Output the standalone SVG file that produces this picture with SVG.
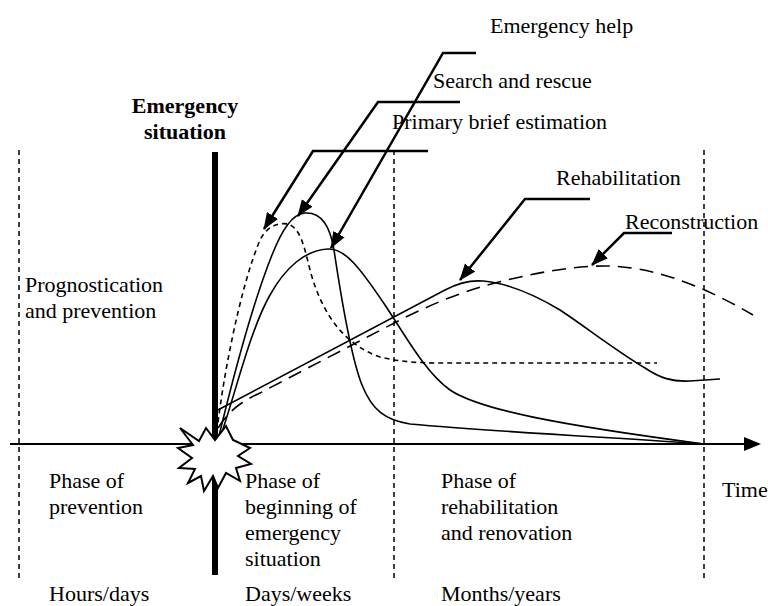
<svg xmlns="http://www.w3.org/2000/svg" width="768" height="606" viewBox="0 0 768 606">
<style>
text{font-family:"Liberation Serif","Times New Roman",serif;font-size:22px;fill:#000}
.b{font-weight:bold}
.vd{stroke:#000;stroke-width:1.5;stroke-dasharray:5,4;fill:none}
.c{fill:none;stroke:#000;stroke-width:1.6}
.ld{fill:none;stroke:#000;stroke-width:2.5;marker-end:url(#ah)}
</style>
<defs>
<marker id="ah" markerUnits="userSpaceOnUse" markerWidth="18" markerHeight="14" refX="16" refY="6.5" orient="auto">
<path d="M0,0 L17,6.5 L0,13 z" fill="#000"/>
</marker>
</defs>
<rect width="768" height="606" fill="#fff"/>
<g id="phase-lines">
<line class="vd" x1="19" y1="150" x2="19" y2="578"/>
<line class="vd" x1="394" y1="150" x2="394" y2="578"/>
<line class="vd" x1="704" y1="150" x2="704" y2="578"/>
</g>
<g id="emergency-line">
<line x1="215" y1="152" x2="215" y2="575" stroke="#000" stroke-width="6"/>
</g>
<g id="time-axis">
<line x1="10" y1="444" x2="748" y2="444" stroke="#000" stroke-width="2"/>
<polygon points="744,437 761,444 744,451" fill="#000"/>
</g>
<g id="curves">
<path id="curve-primary" class="c" stroke-dasharray="5,4" d="M216,440 C222,380 240,290 258,245 C264,228 276,222 288,224 C300,228 304,245 310,270 C322,315 345,345 380,357 C400,362 420,363 440,363 L657,363"/>
<path id="curve-search" class="c" d="M218,440 C230,390 250,310 272,255 C282,230 292,214 305,213 C320,212 330,225 334,250 C340,290 350,355 362,385 C372,410 385,420 410,424 C500,432 620,438 704,444"/>
<path id="curve-help" class="c" stroke-width="3" d="M220,438 C235,395 250,330 270,295 C285,268 305,250 328,249 C345,248 360,268 385,305 C405,335 425,372 450,390 C480,410 560,425 704,444"/>
<path id="curve-rehab" class="c" d="M216,411 L445,290 C458,283 470,280 483,281 C505,283 530,292 560,310 C590,330 615,350 645,368 C660,378 672,382 690,381 L720,379"/>
<path id="curve-recon" class="c" stroke-dasharray="14,8" d="M218,428 C228,412 240,402 258,394 L400,320 C430,305 460,292 495,283 C530,274 570,266 605,266 C650,266 700,284 753,315"/>
</g>
<g id="explosion">
<polygon points="180,428 199,441 206,428 215,440 226,426 233,440 250,448 238,456 251,464 236,468 240,481 226,473 218,488 213,476 204,491 201,476 188,483 195,469 179,468 192,458 178,448 193,445" fill="#fff" stroke="#000" stroke-width="2" stroke-linejoin="miter"/>
</g>
<g id="leaders">
<polyline class="ld" points="476,53 443,53 331,248"/>
<polyline class="ld" points="460,102 378,102 298,216"/>
<polyline class="ld" points="428,151 313,151 264,229"/>
<polyline class="ld" points="590,199 525,199 460,280"/>
<polyline class="ld" points="672,233 624,233 592,265"/>
</g>
<g id="labels">
<text x="490" y="33">Emergency help</text>
<text x="433" y="88">Search and rescue</text>
<text x="392" y="129">Primary brief estimation</text>
<text x="556" y="185">Rehabilitation</text>
<text x="625" y="229">Reconstruction</text>
<text class="b" x="185" y="113" text-anchor="middle">Emergency</text>
<text class="b" x="185" y="139" text-anchor="middle">situation</text>
<text x="25" y="292">Prognostication</text>
<text x="25" y="318">and prevention</text>
<text x="49" y="488">Phase of</text>
<text x="49" y="514">prevention</text>
<text x="245" y="488">Phase of</text>
<text x="245" y="514">beginning of</text>
<text x="245" y="540">emergency</text>
<text x="245" y="566">situation</text>
<text x="441" y="488">Phase of</text>
<text x="441" y="514">rehabilitation</text>
<text x="441" y="540">and renovation</text>
<text x="722" y="497">Time</text>
<text x="49" y="601">Hours/days</text>
<text x="245" y="601">Days/weeks</text>
<text x="441" y="601">Months/years</text>
</g>
</svg>
